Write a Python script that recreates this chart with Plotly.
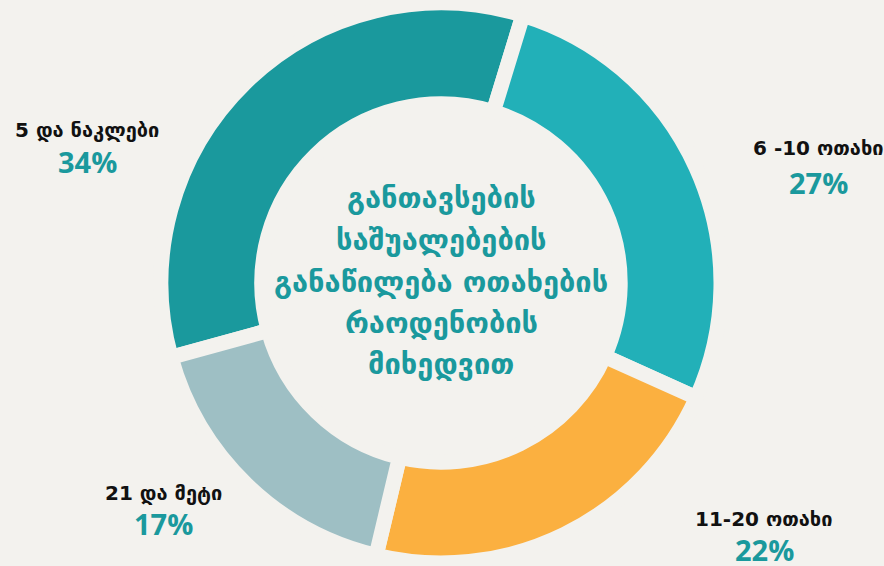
import plotly.graph_objects as go

categories = ["5 და ნაკლები", "6 -10 ოთახი", "11-20 ოთახი", "21 და მეტი"]
values = [34, 27, 22, 17]
colors = ["#1a999d", "#22b0b8", "#fbb040", "#9ebfc4"]
title_lines = ["განთავსების", "საშუალებების", "განაწილება ოთახების", "რაოდენობის", "მიხედვით"]

bg = "#f3f2ee"
teal = "#1a999d"
W, H = 884, 566

fig = go.Figure()
fig.add_trace(go.Pie(
    labels=categories, values=values, sort=False, direction="clockwise",
    rotation=-105.4, hole=0.64,
    marker=dict(colors=colors, line=dict(color=bg, width=15)),
    textinfo="none", hoverinfo="label+percent", showlegend=False,
    domain=dict(x=[(441 - 280) / W, (441 + 280) / W], y=[0.005, 0.995]),
))

# label positions (pixel centres of label/percent pairs)
label_pos = [(87, 130, 161), (818, 148, 182), (764, 519, 549), (163, 493, 523)]
for cat, val, (px, ly, py) in zip(categories, values, label_pos):
    fig.add_annotation(x=px / W, y=1 - ly / H, xref="paper", yref="paper",
                       xanchor="center", yanchor="middle",
                       text=f"<b>{cat}</b>", showarrow=False,
                       font=dict(family="DejaVu Sans", size=20, color="#111111"))
    fig.add_annotation(x=px / W, y=1 - py / H, xref="paper", yref="paper",
                       xanchor="center", yanchor="middle",
                       text=f"<b>{val}%</b>", showarrow=False,
                       font=dict(family="Open Sans", size=29, color=teal, weight=700))

title_y = [198, 240, 282, 323, 364]
for line, ty in zip(title_lines, title_y):
    fig.add_annotation(x=441 / W, y=1 - ty / H, xref="paper", yref="paper",
                       xanchor="center", yanchor="middle",
                       text=f"<b>{line}</b>", showarrow=False,
                       font=dict(family="DejaVu Sans", size=29, color=teal))

fig.update_layout(width=W, height=H, margin=dict(l=0, r=0, t=0, b=0),
                  paper_bgcolor=bg, plot_bgcolor=bg)
fig.write_html("out.html", config={"displayModeBar": False},
               post_script="document.body.style.margin='0';document.body.style.overflow='hidden';document.body.style.background='%s';" % bg)
